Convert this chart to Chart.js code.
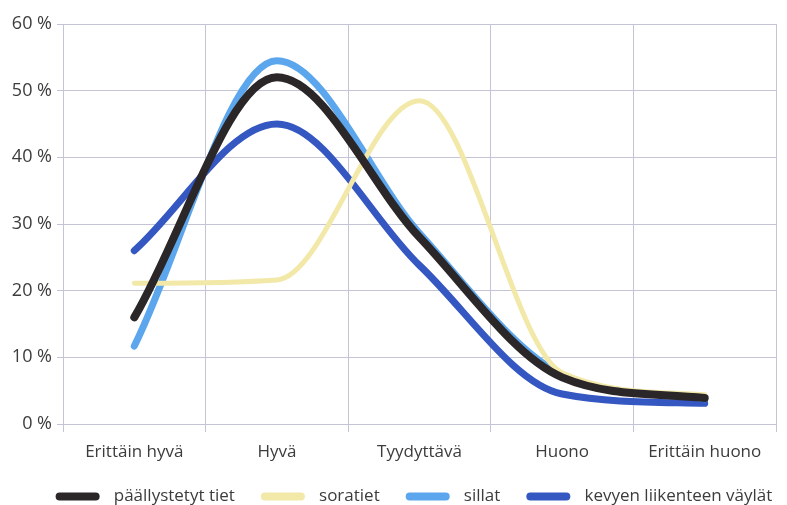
<!DOCTYPE html>
<html>
<head>
<meta charset="utf-8">
<script src="https://cdn.jsdelivr.net/npm/chart.js@4"></script>
<style>
  html, body { margin: 0; padding: 0; background: #fff; }
  #wrap { width: 787px; height: 505px; }
</style>
</head>
<body>
<div id="wrap"><canvas id="chart" width="787" height="505"></canvas></div>
<script>
const categories = ["Erittäin hyvä", "Hyvä", "Tyydyttävä", "Huono", "Erittäin huono"];
const yTicks = [0, 10, 20, 30, 40, 50, 60];

const paallystetyt = [16, 52, 28, 7, 3.9];
const soratiet = [21.1, 21.6, 48.5, 7.7, 4.4];
const sillat = [11.7, 54.5, 28.6, 7.4, 3.8];
const kevyet = [26, 45, 23.8, 4.5, 3.1];

const textColor = "#3c3c3c";
const gridColor = "#c3c5d6";
const fontFamily = "'Open Sans'";

const mk = (label, data, color, width) => ({
  label: label,
  data: data,
  borderColor: color,
  backgroundColor: color,
  borderWidth: width,
  borderCapStyle: "round",
  borderJoinStyle: "round",
  pointRadius: 0,
  pointHoverRadius: 0,
  cubicInterpolationMode: "monotone",
  fill: false,
});

// nudge the legend to the right like in the original
const legendShift = {
  id: "legendShift",
  afterLayout(chart) {
    const lg = chart.legend;
    if (!lg) return;
    const dx = 26;
    lg.left += dx;
    lg.right += dx;
  },
};

const ctx = document.getElementById("chart").getContext("2d");
new Chart(ctx, {
  type: "line",
  data: {
    labels: categories,
    datasets: [
      mk("päällystetyt tiet", paallystetyt, "#2b2628", 8),
      mk("soratiet", soratiet, "#f2e8a8", 5),
      mk("sillat", sillat, "#5ba6ec", 7),
      mk("kevyen liikenteen väylät", kevyet, "#3557c2", 7),
    ],
  },
  plugins: [legendShift],
  options: {
    responsive: false,
    animation: false,
    layout: { padding: { top: 24, right: 11, left: 0, bottom: -10 } },
    plugins: {
      tooltip: { enabled: false },
      legend: {
        position: "bottom",
        labels: {
          color: textColor,
          font: { family: fontFamily, size: 17 },
          boxWidth: 44,
          boxHeight: 8,
          padding: 26,
          useBorderRadius: true,
          borderRadius: 4,
          generateLabels: (chart) =>
            Chart.defaults.plugins.legend.labels.generateLabels(chart).map((l) => {
              l.lineWidth = 0;
              l.text = "\u2009\u2009" + l.text;
              return l;
            }),
        },
      },
    },
    scales: {
      x: {
        offset: true,
        grid: { offset: true, color: gridColor, tickLength: 8 },
        border: { color: gridColor },
        ticks: { color: textColor, font: { family: fontFamily, size: 17 }, padding: 10 },
        afterFit: (s) => { s.height = 38; },
      },
      y: {
        min: 0,
        max: 60,
        afterBuildTicks: (s) => { s.ticks = yTicks.map((v) => ({ value: v })); },
        grid: { color: gridColor, tickLength: 6 },
        border: { color: gridColor },
        ticks: {
          color: textColor,
          font: { family: fontFamily, size: 18 },
          padding: 5,
          callback: (v) => v + " %",
        },
        afterFit: (s) => { s.width = 63; },
      },
    },
  },
});
</script>
</body>
</html>
